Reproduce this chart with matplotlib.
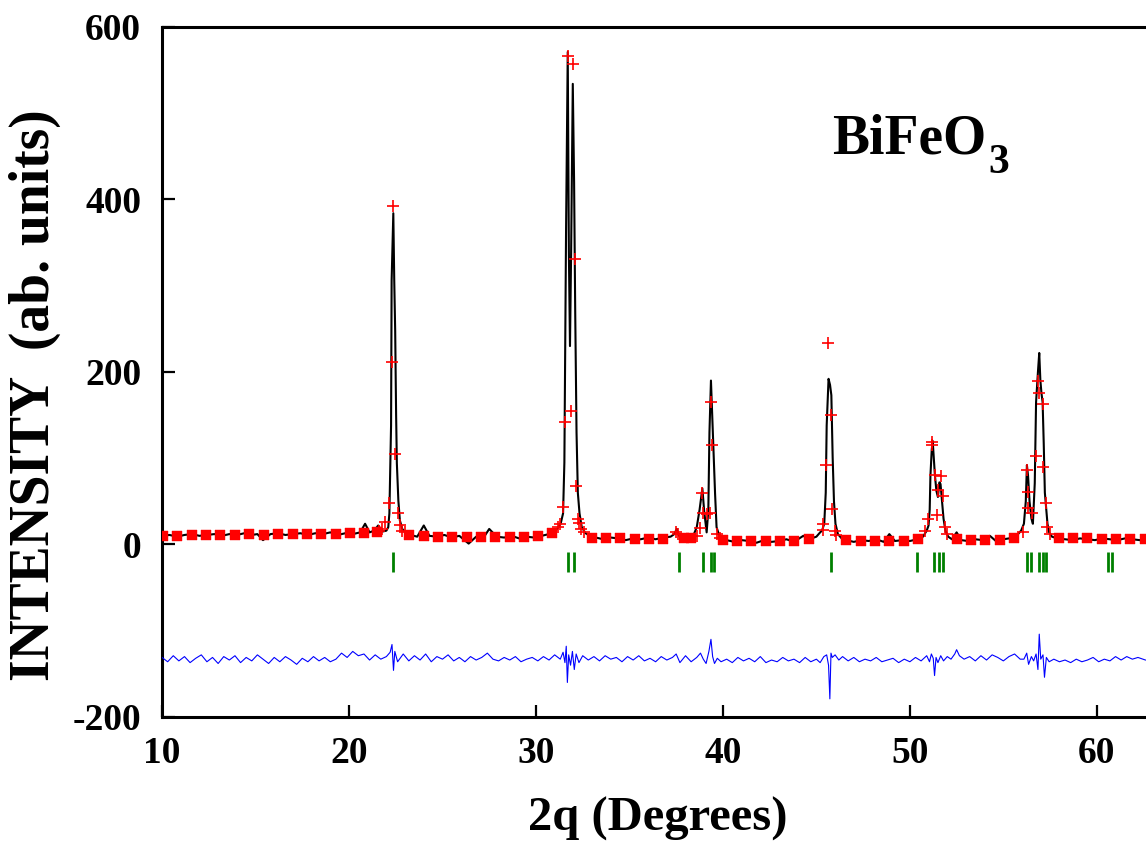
import matplotlib
matplotlib.use("Agg")
import matplotlib.pyplot as plt

plt.rcParams['font.family'] = ['Liberation Serif', 'DejaVu Serif']
plt.rcParams['font.weight'] = 'bold'
plt.rcParams['axes.unicode_minus'] = False

# ----- calculated profile (black line), (2theta, intensity) -----
calc_pts = [
    (10.0, 10), (10.4, 11), (10.8, 9), (11.2, 11), (11.6, 12), (12.0, 10), (12.4, 11), (12.8, 12),
    (13.2, 10), (13.6, 12), (14.0, 11), (14.4, 13), (14.8, 11), (15.1, 12), (15.4, 5), (15.8, 12),
    (16.2, 13), (16.6, 11), (17.0, 12), (17.4, 13), (17.8, 11), (18.2, 13), (18.6, 12), (19.0, 14),
    (19.4, 11), (19.8, 13), (20.2, 12), (20.6, 14), (20.86, 24), (21.1, 14), (21.35, 16), (21.56, 22),
    (21.8, 15),
    (22.0, 16), (22.1, 20), (22.16, 36), (22.22, 100), (22.25, 138), (22.28, 306), (22.37, 384),
    (22.42, 306), (22.47, 248), (22.52, 150), (22.56, 94), (22.64, 51), (22.72, 28), (22.85, 18), (23.0, 14),
    (23.3, 11), (23.65, 9), (24.0, 22), (24.3, 10), (24.7, 9), (25.1, 11), (25.5, 8), (25.9, 10),
    (26.4, 1), (26.8, 9), (27.2, 8), (27.5, 18), (27.9, 9), (28.3, 8), (28.7, 10), (29.1, 7),
    (29.5, 9), (29.9, 8), (30.3, 10), (30.7, 12), (31.0, 15), (31.2, 20),
    (31.32, 24), (31.45, 36), (31.52, 95), (31.61, 364), (31.70, 571), (31.76, 340), (31.82, 230),
    (31.88, 337), (31.97, 534), (32.04, 420), (32.10, 269), (32.17, 130), (32.24, 60), (32.33, 36),
    (32.45, 20), (32.65, 13), (32.9, 10),
    (33.2, 8), (33.6, 6), (34.0, 8), (34.4, 7), (34.8, 5), (35.2, 7), (35.6, 6), (36.0, 8),
    (36.4, 6), (36.8, 8), (37.2, 9),
    (37.4, 12), (37.53, 18), (37.65, 10), (37.9, 8), (38.2, 9), (38.45, 12), (38.6, 20), (38.75, 40),
    (38.9, 65), (39.0, 38), (39.13, 14), (39.22, 40), (39.28, 130), (39.36, 190), (39.42, 155),
    (39.5, 111), (39.58, 59), (39.66, 20), (39.78, 12), (39.95, 7),
    (40.2, 5), (40.6, 3), (41.0, 5), (41.4, 4), (41.8, 2), (42.2, 5), (42.6, 3), (43.0, 4),
    (43.4, 6), (43.8, 3), (44.3, 10), (44.6, 6), (45.0, 9), (45.2, 14),
    (45.3, 16), (45.42, 24), (45.5, 60), (45.55, 138), (45.65, 192), (45.73, 185), (45.8, 173),
    (45.87, 101), (45.94, 50), (46.02, 24), (46.15, 12), (46.35, 7),
    (46.6, 5), (47.0, 3), (47.4, 5), (47.8, 4), (48.2, 6), (48.6, 3), (48.9, 12), (49.2, 4),
    (49.6, 5), (50.0, 4), (50.4, 6), (50.7, 9), (50.9, 16),
    (51.0, 22), (51.06, 40), (51.1, 80), (51.17, 110), (51.22, 120), (51.28, 100), (51.34, 80),
    (51.42, 62), (51.5, 55), (51.58, 72), (51.64, 70), (51.72, 50), (51.8, 30), (51.9, 16),
    (52.05, 9), (52.25, 6),
    (52.5, 14), (52.75, 5), (53.1, 4), (53.5, 6), (53.9, 5), (54.28, 10), (54.6, 4), (55.0, 6),
    (55.3, 7), (55.7, 10), (55.95, 16),
    (56.1, 24), (56.2, 50), (56.26, 92), (56.32, 80), (56.4, 50), (56.5, 30), (56.58, 24),
    (56.68, 71), (56.75, 165), (56.85, 200), (56.92, 222), (56.98, 190), (57.04, 175), (57.1, 165),
    (57.16, 117), (57.22, 60), (57.3, 40), (57.36, 24), (57.45, 14), (57.6, 9),
    (57.9, 7), (58.3, 6), (58.7, 5), (59.1, 7), (59.5, 6), (59.9, 5), (60.3, 7), (60.7, 6),
    (61.1, 5), (61.5, 7), (61.9, 6), (62.3, 5), (62.7, 6),
]

# ----- observed points on the flat background (red blocks) -----
obs_bg_x = [10.05, 10.8, 11.6, 12.35, 13.1, 13.9, 14.65, 15.45, 16.2, 17.0, 17.75, 18.5, 19.3,
            20.05, 20.8, 21.5,
            23.2, 24.0, 24.75, 25.5, 26.3, 27.05, 27.8, 28.6, 29.35, 30.1, 30.85,
            33.0, 33.75, 34.5, 35.3, 36.05, 36.8, 37.9, 38.3,
            40.0, 40.75, 41.5, 42.3, 43.05, 43.8, 44.6,
            46.6, 47.4, 48.15, 48.9, 49.7, 50.45,
            52.5, 53.25, 54.0, 54.8, 55.55,
            58.0, 58.75, 59.5, 60.3, 61.05, 61.8, 62.55]
obs_bg_y = [10, 10, 11, 11, 11, 11, 12, 11, 12, 12, 12, 12, 12,
            13, 13, 14,
            11, 10, 9, 9, 9, 9, 9, 9, 9, 10, 13,
            8, 7, 7, 6, 6, 6, 7, 8,
            5, 4, 4, 4, 4, 4, 6,
            5, 4, 4, 4, 4, 6,
            6, 5, 5, 5, 7,
            7, 7, 7, 6, 6, 6, 6]

# ----- observed points on the peaks (red crosses) -----
obs_peak_pts = [
    (21.6, 16), (21.75, 18), (21.93, 26), (22.16, 48), (22.29, 211), (22.37, 392), (22.47, 105),
    (22.64, 36), (22.73, 22), (22.85, 16), (23.0, 14),
    (31.2, 20), (31.29, 24), (31.43, 43), (31.56, 142), (31.70, 566), (31.88, 155), (31.97, 557),
    (32.09, 331), (32.14, 68), (32.27, 30), (32.3, 25), (32.4, 18), (32.55, 14),
    (37.5, 14), (37.6, 12), (38.6, 10), (38.78, 19), (38.87, 60), (38.91, 37), (39.13, 35),
    (39.31, 36), (39.35, 165), (39.43, 115), (39.7, 12), (39.85, 8),
    (45.33, 17), (45.37, 24), (45.5, 92), (45.64, 233), (45.76, 150), (45.85, 41), (46.0, 16),
    (46.06, 11),
    (50.81, 16), (50.98, 30), (51.17, 119), (51.2, 115), (51.34, 80), (51.43, 34), (51.52, 63),
    (51.66, 79), (51.79, 56), (51.88, 20), (52.0, 12),
    (56.06, 14), (56.25, 86), (56.3, 42), (56.33, 61), (56.55, 37), (56.74, 103), (56.83, 190),
    (56.93, 176), (57.13, 163), (57.13, 90), (57.26, 48), (57.35, 20), (57.49, 12),
]

# ----- Bragg reflection positions (green ticks) -----
bragg_x = [22.36, 31.72, 32.01, 37.65, 38.95, 39.36, 39.52, 45.77, 50.36, 51.31, 51.57, 51.79,
           56.28, 56.46, 56.92, 57.10, 57.28, 60.61, 60.81]
bragg_y = [-20] * len(bragg_x)

# ----- difference curve (blue) -----
diff_pts = [
    (10.0, -131), (10.3, -136), (10.6, -129), (10.9, -135), (11.2, -130), (11.5, -137), (11.8, -132),
    (12.1, -128), (12.4, -136), (12.7, -131), (13.0, -138), (13.3, -130), (13.6, -134), (13.9, -129),
    (14.2, -137), (14.5, -131), (14.8, -135), (15.1, -128), (15.4, -133), (15.7, -138), (16.0, -131),
    (16.3, -136), (16.6, -130), (16.9, -134), (17.2, -139), (17.5, -132), (17.8, -136), (18.1, -130),
    (18.4, -135), (18.7, -131), (19.0, -136),
    (19.3, -133), (19.6, -126), (19.9, -131), (20.2, -124), (20.5, -129), (20.8, -127), (21.1, -134),
    (21.4, -128), (21.7, -133), (22.0, -130), (22.2, -125), (22.3, -116), (22.38, -146), (22.45, -124),
    (22.6, -136), (22.9, -127), (23.2, -135), (23.5, -129),
    (23.8, -134), (24.1, -127), (24.4, -136), (24.7, -130), (25.0, -133), (25.3, -128), (25.6, -135),
    (25.9, -131), (26.2, -136), (26.5, -130), (26.8, -134), (27.1, -131), (27.4, -126), (27.7, -133),
    (28.0, -135), (28.3, -131), (28.6, -134), (28.9, -130), (29.2, -136), (29.5, -133), (29.8, -131),
    (30.1, -135), (30.4, -130), (30.7, -134), (31.0, -128), (31.3, -133),
    (31.45, -125), (31.55, -137), (31.62, -118), (31.68, -160), (31.75, -128), (31.85, -140),
    (31.95, -124), (32.05, -145), (32.15, -127), (32.3, -137), (32.5, -129), (32.8, -134),
    (33.1, -130), (33.4, -135), (33.7, -129), (34.0, -133), (34.3, -131), (34.6, -136), (34.9, -130),
    (35.2, -134), (35.5, -129), (35.8, -135), (36.1, -132), (36.4, -136), (36.7, -130), (37.0, -134),
    (37.3, -131), (37.5, -127), (37.7, -137), (38.0, -129), (38.3, -136), (38.6, -131), (38.8, -126),
    (38.95, -133), (39.1, -138), (39.25, -124), (39.36, -110), (39.45, -130), (39.55, -138),
    (39.7, -132), (39.9, -136),
    (40.2, -133), (40.5, -137), (40.8, -131), (41.1, -135), (41.4, -132), (41.7, -136), (42.0, -130),
    (42.3, -137), (42.6, -134), (42.9, -136), (43.2, -131), (43.5, -135), (43.8, -133), (44.1, -137),
    (44.4, -131), (44.7, -136), (45.0, -133), (45.2, -137), (45.4, -130), (45.55, -128),
    (45.65, -140), (45.72, -179), (45.78, -126), (45.85, -131), (46.0, -128), (46.2, -134),
    (46.4, -130), (46.7, -135), (47.0, -131), (47.3, -136), (47.6, -133), (47.9, -135), (48.2, -131),
    (48.5, -136), (48.8, -134), (49.1, -132), (49.4, -137), (49.7, -133), (50.0, -136), (50.3, -131),
    (50.6, -135), (50.9, -129),
    (51.05, -136), (51.15, -127), (51.25, -132), (51.32, -152), (51.4, -131), (51.5, -137),
    (51.65, -129), (51.8, -135), (52.0, -130), (52.2, -133),
    (52.4, -127), (52.5, -122), (52.65, -129), (52.9, -133), (53.2, -130), (53.5, -135), (53.8, -129),
    (54.1, -134), (54.4, -128), (54.7, -131), (55.0, -135), (55.3, -130), (55.6, -127), (55.9, -133),
    (56.1, -133), (56.25, -126), (56.35, -139), (56.5, -130), (56.62, -135), (56.75, -127),
    (56.85, -145), (56.92, -104), (57.0, -133), (57.12, -128), (57.2, -154), (57.3, -131), (57.45, -136),
    (57.7, -133), (58.0, -136), (58.3, -134), (58.6, -137), (58.9, -133), (59.2, -136), (59.5, -134),
    (59.8, -131), (60.1, -136), (60.4, -133), (60.7, -135), (61.0, -130), (61.3, -134), (61.6, -130),
    (61.9, -133), (62.2, -131), (62.6, -134),
]

x_ticks = [10, 20, 30, 40, 50, 60]
y_ticks = [-200, 0, 200, 400, 600]

calc_x, calc_y = zip(*calc_pts)
pk_x, pk_y = zip(*obs_peak_pts)
diff_x, diff_y = zip(*diff_pts)

fig = plt.figure(figsize=(11.46, 8.52), dpi=100)
ax = fig.add_axes([0.1414, 0.1585, 0.8586, 0.8099])

ax.plot(calc_x, calc_y, color='black', lw=1.5, zorder=2)
ax.plot(obs_bg_x, obs_bg_y, ls='none', marker='+', ms=7.5, mew=7.5, color='red', zorder=3)
ax.plot(pk_x, pk_y, ls='none', marker='+', ms=9, mew=1.2, color='red', zorder=4)
ax.plot(bragg_x, bragg_y, ls='none', marker='|', ms=14, mew=2, color='#008000', zorder=3)
ax.plot(diff_x, diff_y, color='blue', lw=0.8, zorder=3)

ax.set_xlim(10, 62.63)
ax.set_ylim(-200, 600)
ax.set_xticks(x_ticks)
ax.set_yticks(y_ticks)

ax.spines['right'].set_visible(False)
for s in ['left', 'bottom', 'top']:
    ax.spines[s].set_linewidth(2.2)
ax.tick_params(direction='in', length=9, width=1.6, labelsize=27, top=False, right=False)
ax.tick_params(axis='x', pad=14)
ax.tick_params(axis='y', pad=15)

ax.set_xlabel('2q (Degrees)', fontsize=35, fontweight='bold')
ax.xaxis.set_label_coords(0.504, -0.115)
ax.set_ylabel('INTENSITY  (ab. units)', fontsize=40, fontweight='bold', va='center')
ax.yaxis.set_label_coords(-0.129, 0.467)

# compound label, subscript placed by hand after the main text
t = ax.text(45.82, 453, 'BiFeO', fontsize=40, fontweight='bold', ha='left', va='baseline')
ax.annotate('3', xy=(1, 0), xycoords=t, xytext=(2, -5), textcoords='offset points',
            fontsize=30, fontweight='bold', ha='left', va='baseline')

fig.savefig('out.png', dpi=100)
